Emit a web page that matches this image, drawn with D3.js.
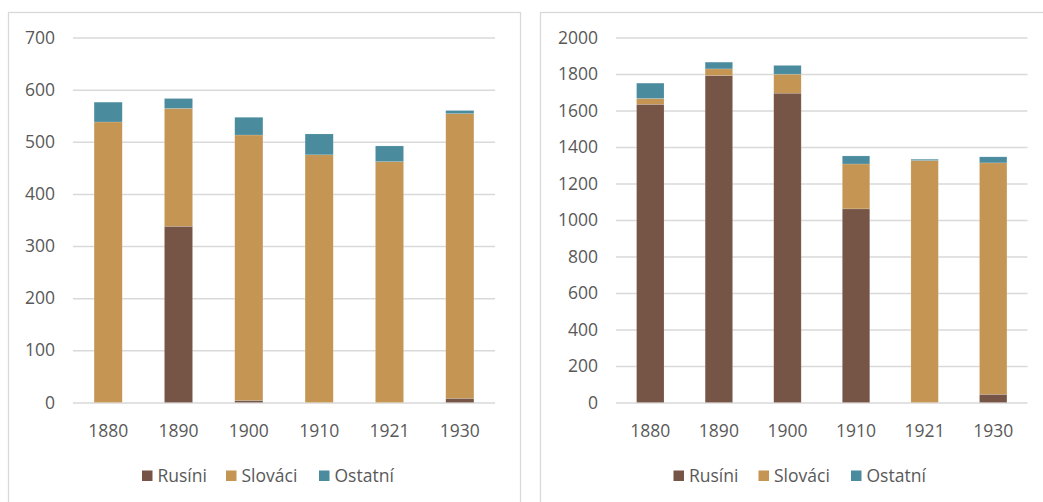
<!DOCTYPE html>
<html>
<head>
<meta charset="utf-8">
<script src="https://cdn.jsdelivr.net/npm/d3@7/dist/d3.min.js"></script>
<style>
  html, body { margin: 0; padding: 0; background: #ffffff; }
  svg { display: block; }
  text { font-family: "Open Sans", "Noto Sans", sans-serif; fill: #595959; }
</style>
</head>
<body>
<svg id="chart" width="1043" height="502"></svg>
<script>
// Census years shared by both panels
const years = ["1880", "1890", "1900", "1910", "1921", "1930"];
const seriesNames = ["Rusíni", "Slováci", "Ostatní"];
const seriesColors = ["#765546", "#c49553", "#4a8b9e"];

// Left panel values
const leftRusini  = [0, 338, 4, 0, 0, 8];
const leftSlovaci = [538, 226, 509, 475, 462, 546];
const leftOstatni = [38, 19, 34, 40, 30, 6];
const leftTicks = [0, 100, 200, 300, 400, 500, 600, 700];

// Right panel values
const rightRusini  = [1634, 1792, 1695, 1061, 0, 45];
const rightSlovaci = [32, 36, 104, 246, 1326, 1268];
const rightOstatni = [84, 37, 48, 44, 7, 33];
const rightTicks = [0, 200, 400, 600, 800, 1000, 1200, 1400, 1600, 1800, 2000];

const svg = d3.select("#chart");

function drawPanel(cfg) {
  const g = svg.append("g");

  // panel frame
  g.append("rect")
    .attr("x", cfg.frame[0] + 0.5).attr("y", cfg.frame[1] + 0.5)
    .attr("width", cfg.frame[2]).attr("height", cfg.frame[3])
    .attr("fill", "#ffffff").attr("stroke", "#d9d9d9").attr("stroke-width", 1.3);

  const rows = years.map((yr, i) => ({
    year: yr,
    "Rusíni": cfg.rusini[i],
    "Slováci": cfg.slovaci[i],
    "Ostatní": cfg.ostatni[i]
  }));

  const x = d3.scaleBand().domain(years).range(cfg.xRange)
    .paddingInner(0.6).paddingOuter(0.3);
  const y = d3.scaleLinear().domain([0, d3.max(cfg.ticks)]).range(cfg.yRange);

  // gridlines + value labels
  const yAxis = d3.axisLeft(y).tickValues(cfg.ticks)
    .tickSizeInner(-(cfg.xRange[1] - cfg.xRange[0])).tickSizeOuter(0)
    .tickPadding(18).tickFormat(d3.format("d"));
  const ya = g.append("g").attr("transform", `translate(${cfg.xRange[0]},0)`).call(yAxis);
  ya.select(".domain").remove();
  ya.selectAll("line").attr("stroke", "#d9d9d9").attr("stroke-width", 1.5);
  ya.selectAll("text").attr("font-size", 17.5).attr("fill", "#595959")
    .attr("font-family", "'Open Sans', 'Noto Sans', sans-serif");

  // stacked bars
  const stack = d3.stack().keys(seriesNames)(rows);
  g.append("g").selectAll("g").data(stack).join("g")
    .attr("fill", (d, i) => seriesColors[i])
    .selectAll("rect").data(d => d).join("rect")
    .attr("x", d => x(d.data.year))
    .attr("width", x.bandwidth())
    .attr("y", d => y(d[1]))
    .attr("height", d => Math.max(0, y(d[0]) - y(d[1])))
    .attr("stroke", "rgba(255,255,255,0.3)")
    .attr("stroke-width", 0.5);

  // category labels
  const xAxis = d3.axisBottom(x).tickSize(0).tickPadding(0);
  const xa = g.append("g").attr("transform", `translate(0,${cfg.yRange[0]})`).call(xAxis);
  xa.select(".domain").remove();
  xa.selectAll("text").attr("font-size", 17.5).attr("fill", "#595959")
    .attr("font-family", "'Open Sans', 'Noto Sans', sans-serif")
    .attr("dy", null).attr("y", 34);

  // legend
  const lg = g.append("g").selectAll("g").data(seriesNames).join("g")
    .attr("transform", (d, i) => `translate(${cfg.legendX[i]},0)`);
  lg.append("rect").attr("x", 0).attr("y", 470.5).attr("width", 10.5).attr("height", 10.5)
    .attr("fill", (d, i) => seriesColors[i]);
  lg.append("text").attr("x", 15.5).attr("y", 481.5).attr("font-size", 17.5).text(d => d);
}

drawPanel({
  frame: [8, 12, 512, 520],
  xRange: [73, 495],
  yRange: [402.5, 37.5],
  ticks: leftTicks,
  rusini: leftRusini, slovaci: leftSlovaci, ostatni: leftOstatni,
  legendX: [142, 226, 319]
});

drawPanel({
  frame: [540, 12, 540, 520],
  xRange: [616, 1027.5],
  yRange: [402.5, 37.5],
  ticks: rightTicks,
  rusini: rightRusini, slovaci: rightSlovaci, ostatni: rightOstatni,
  legendX: [673.5, 758.5, 851]
});
</script>
</body>
</html>
